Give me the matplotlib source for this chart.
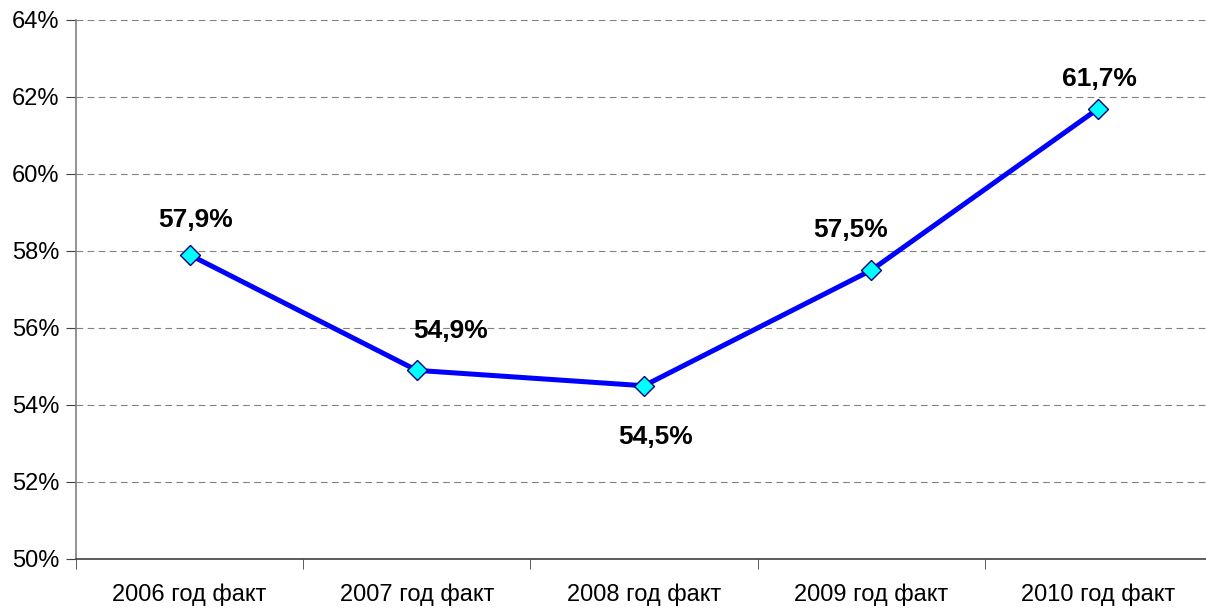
import matplotlib.pyplot as plt
import numpy as np
from matplotlib.ticker import FixedLocator, FuncFormatter

categories = ["2006 год факт", "2007 год факт", "2008 год факт", "2009 год факт", "2010 год факт"]
values = [57.9, 54.9, 54.5, 57.5, 61.7]
labels = ["57,9%", "54,9%", "54,5%", "57,5%", "61,7%"]
# label offsets in points (dx, dy)
label_offsets = [(4, 25), (24, 28), (8, -37), (-15, 29), (1, 21)]

plt.rcParams["font.family"] = ["Liberation Sans", "DejaVu Sans"]

fig = plt.figure(figsize=(12.06, 6.09), dpi=100)
ax = fig.add_axes([76 / 1206, 50 / 609, 1136 / 1206, 539 / 609])

x = np.arange(len(categories))
ax.plot(x, values, color="#0000FF", lw=3.6, zorder=3,
        marker="D", markersize=10.5, markerfacecolor="#00FFFF",
        markeredgecolor="#000080", markeredgewidth=1.0)

for xi, v, lab, (dx, dy) in zip(x, values, labels, label_offsets):
    ax.annotate(lab, xy=(xi, v), xytext=(dx, dy), textcoords="offset points",
                ha="center", va="center", fontsize=19, fontweight="bold", color="black")

ax.set_xlim(-0.5, len(categories) - 0.5)
ax.set_ylim(50, 64)
ax.set_yticks(np.arange(50, 65, 2))
ax.yaxis.set_major_formatter(FuncFormatter(lambda v, p: f"{v:.0f}%"))
ax.set_xticks(x)
ax.set_xticklabels(categories)
ax.xaxis.set_minor_locator(FixedLocator(np.arange(-0.5, len(categories), 1.0)))
ax.tick_params(axis="x", which="major", length=0, pad=18, labelsize=17)
ax.tick_params(axis="x", which="minor", length=7, color="#404040", direction="out")
ax.tick_params(axis="y", length=7, color="#404040", labelsize=17, pad=5)

ax.grid(axis="y", color="#808080", ls=(0, (6, 4)), lw=0.8)
for s in ["top", "right"]:
    ax.spines[s].set_visible(False)
ax.spines["left"].set_color("#808080")
ax.spines["left"].set_linewidth(1.2)
ax.spines["bottom"].set_color("#404040")
ax.spines["bottom"].set_linewidth(1.2)

fig.savefig("out.png", dpi=100)
